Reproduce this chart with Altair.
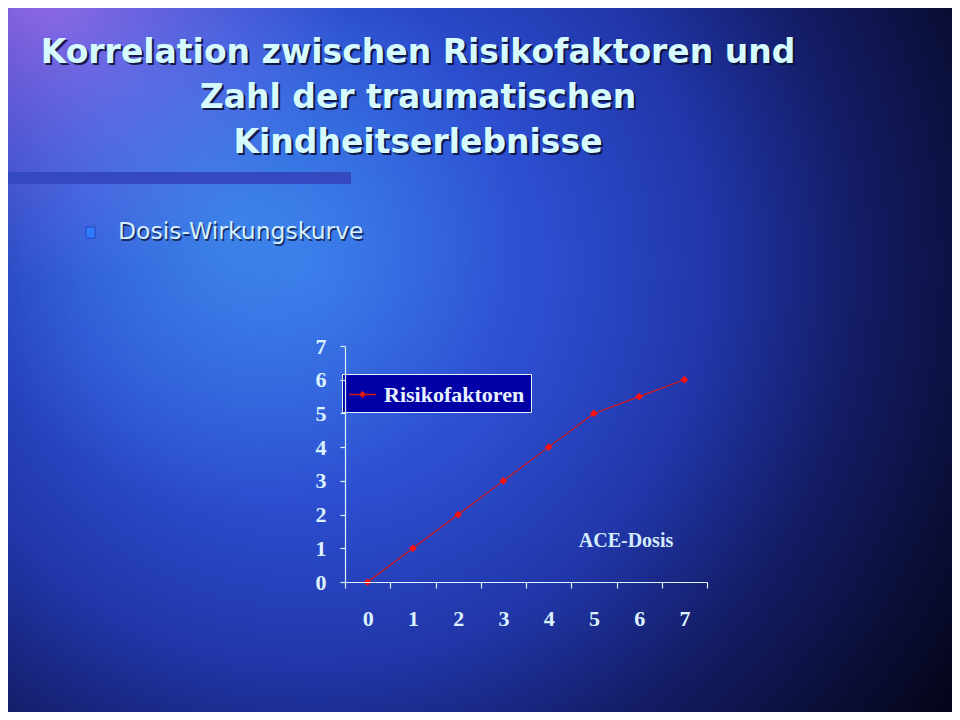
import altair as alt
import pandas as pd

# ---- data ----
ace_dose = [0, 1, 2, 3, 4, 5, 6, 7]
risk_factors = [0, 1, 2, 3, 4, 5, 5.5, 6]
series_name = "Risikofaktoren"
x_ticks = [-0.5, 0.5, 1.5, 2.5, 3.5, 4.5, 5.5, 6.5, 7.5]
y_ticks = [0, 1, 2, 3, 4, 5, 6, 7]
title_lines = ["Korrelation zwischen Risikofaktoren und", "Zahl der traumatischen", "Kindheitserlebnisse"]
bullet_text = "Dosis-Wirkungskurve"
annotation_text = ["ACE-Dosis"]
annotation_x = [5.71]
annotation_y = [1.22]

df = pd.DataFrame({"dose": ace_dose, "risk": risk_factors, "series": [series_name] * len(ace_dose)})
ann = pd.DataFrame({"x": annotation_x, "y": annotation_y, "t": annotation_text})
one = pd.DataFrame({"k": [0]})

# layout (canvas 944x704, plot area origin at canvas (337, 338))
PL, PT, PW, PH = 337, 338, 362, 236
CW, CH = 944, 704

PALE = "#dcf2ff"
SERIF = "Liberation Serif"

bg_main = alt.RadialGradient(
    gradient="radial",
    x1=0.32, y1=0.4, r1=0.0, x2=0.32, y2=0.4, r2=0.82,
    stops=[
        alt.GradientStop(offset=0.0, color="#3566e4"),
        alt.GradientStop(offset=0.3, color="#2c4ed0"),
        alt.GradientStop(offset=0.52, color="#2136a8"),
        alt.GradientStop(offset=0.7, color="#141d68"),
        alt.GradientStop(offset=0.88, color="#0a0e36"),
        alt.GradientStop(offset=1.0, color="#04051a"),
    ],
)
glow_purple = alt.RadialGradient(
    gradient="radial",
    x1=0.04, y1=0.1, r1=0.0, x2=0.04, y2=0.1, r2=0.32,
    stops=[
        alt.GradientStop(offset=0.0, color="rgba(200,130,255,0.7)"),
        alt.GradientStop(offset=1.0, color="rgba(150,100,255,0)"),
    ],
)
glow_cyan = alt.RadialGradient(
    gradient="radial",
    x1=0.24, y1=0.36, r1=0.0, x2=0.24, y2=0.36, r2=0.3,
    stops=[
        alt.GradientStop(offset=0.0, color="rgba(80,200,255,0.35)"),
        alt.GradientStop(offset=1.0, color="rgba(80,200,255,0)"),
    ],
)

full = dict(x=alt.value(-PL), x2=alt.value(CW - PL), y=alt.value(-PT), y2=alt.value(CH - PT))
bg1 = alt.Chart(one).mark_rect(fill=bg_main).encode(**full)
bg2 = alt.Chart(one).mark_rect(fill=glow_purple).encode(**full)
bg3 = alt.Chart(one).mark_rect(fill=glow_cyan).encode(**full)

# decorative bar under title
bar = alt.Chart(one).mark_rect(fill="#3448bf").encode(
    x=alt.value(-PL), x2=alt.value(343 - PL), y=alt.value(164 - PT), y2=alt.value(176 - PT)
)

title_txt = "\n".join(title_lines)
tstyle = dict(text=title_txt, font="DejaVu Sans", fontWeight="bold", fontSize=33, lineHeight=45,
              lineBreak="\n", align="center", baseline="alphabetic")
title_shadow = alt.Chart(one).mark_text(color="#0a0c30", opacity=0.85, **tstyle).encode(
    x=alt.value(410 - PL + 2), y=alt.value(55 - PT + 2))
title = alt.Chart(one).mark_text(color="#d6fbff", **tstyle).encode(
    x=alt.value(410 - PL), y=alt.value(55 - PT))

bullet = alt.Chart(one).mark_rect(fill="#2f7cff", stroke="#1a3fb0", strokeWidth=0.8).encode(
    x=alt.value(78 - PL), x2=alt.value(87 - PL), y=alt.value(219 - PT), y2=alt.value(230 - PT)
)
sstyle = dict(text=bullet_text, font="DejaVu Sans", fontSize=23.5, align="left", baseline="alphabetic")
sub_shadow = alt.Chart(one).mark_text(color="#0a0c30", opacity=0.7, **sstyle).encode(
    x=alt.value(110 - PL + 1.5), y=alt.value(231 - PT + 1.5))
sub = alt.Chart(one).mark_text(color="#d4efff", **sstyle).encode(
    x=alt.value(110 - PL), y=alt.value(231 - PT))

xs = alt.Scale(domain=[-0.5, 7.5], nice=False, zero=False)
ys = alt.Scale(domain=[0, 7], nice=False, zero=True)

x_axis = alt.Axis(
    values=x_ticks, title=None, grid=False, zindex=1,
    labelExpr="datum.value > 7 ? '' : format(datum.value + 0.5, 'd')",
    labelOffset=PW / 16, labelFlush=False, labelOverlap=False, labelBound=False,
    tickSize=6, labelPadding=20,
)
y_axis = alt.Axis(values=y_ticks, tickCount=8, title=None, grid=False, tickSize=5, labelPadding=14,
                  zindex=1, labelOverlap=False, labelFlush=False)

line = alt.Chart(df).mark_line(strokeWidth=1.2).encode(
    x=alt.X("dose:Q", scale=xs, axis=x_axis),
    y=alt.Y("risk:Q", scale=ys, axis=y_axis),
    color=alt.Color(
        "series:N",
        scale=alt.Scale(domain=[series_name], range=["#d81818"]),
        legend=alt.Legend(
            title=None, orient="none", legendX=-3, legendY=28,
            fillColor="#0000a6", strokeColor="#e6f0ff", padding=6,
            labelFont=SERIF, labelFontWeight="bold", labelFontSize=22, labelColor="#e6f2ff",
            labelLimit=400, labelOffset=7,
            symbolType="M-1,0H1M0,-0.2L0.2,0L0,0.2L-0.2,0Z",
            symbolSize=729, symbolStrokeWidth=1.3, symbolFillColor="#ff1010",
        ),
    ),
)
points = alt.Chart(df).mark_point(filled=True, shape="diamond", size=60, color="#ff1010", opacity=1).encode(
    x=alt.X("dose:Q", scale=xs, axis=x_axis), y=alt.Y("risk:Q", scale=ys, axis=y_axis)
)
ann_text = alt.Chart(ann).mark_text(
    font=SERIF, fontWeight="bold", fontSize=20, color="#d4ecff", align="center", baseline="middle"
).encode(x=alt.X("x:Q", scale=xs, axis=x_axis), y=alt.Y("y:Q", scale=ys, axis=y_axis), text="t:N")

chart = alt.layer(
    bg1, bg2, bg3, bar, title_shadow, title, bullet, sub_shadow, sub, line, points, ann_text
).properties(
    width=PW, height=PH,
    autosize=alt.AutoSizeParams(type="none"),
    padding={"left": PL, "top": PT, "right": CW - PL - PW, "bottom": CH - PT - PH},
    background="#05061a",
).configure_view(stroke=None).configure_axis(
    domainColor=PALE, tickColor=PALE, domainWidth=1.2, tickWidth=1.2,
    labelFont=SERIF, labelFontWeight="bold", labelFontSize=22, labelColor=PALE,
)

chart.save("out.html", embed_options={"renderer": "svg", "actions": False})
